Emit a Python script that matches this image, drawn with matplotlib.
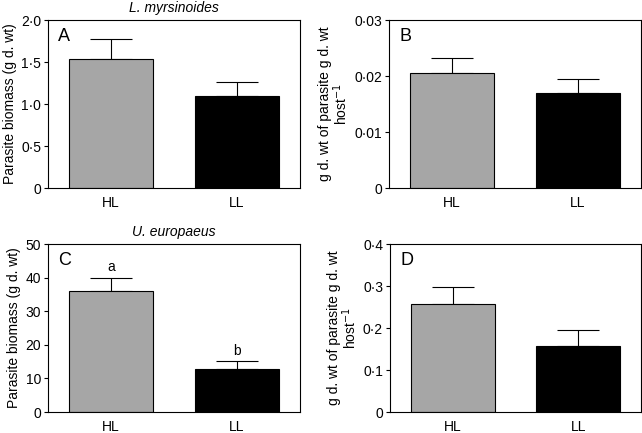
#!/usr/bin/env python3
import matplotlib
matplotlib.use("Agg")
import matplotlib.pyplot as plt
import numpy as np

plt.rcParams["font.family"] = ["Liberation Sans", "DejaVu Sans"]
plt.rcParams["font.size"] = 10

groups = ["HL", "LL"]
colours = ["#a6a6a6", "#000000"]

biomass_lm = [1.53, 1.10]
biomass_lm_err = [0.24, 0.16]
perhost_lm = [0.0205, 0.0170]
perhost_lm_err = [0.0027, 0.0024]

biomass_ue = [36.0, 12.7]
biomass_ue_err = [4.0, 2.5]
perhost_ue = [0.256, 0.156]
perhost_ue_err = [0.041, 0.039]

letters_ue = ["a", "b"]


def dot_fmt(v, nd):
    if v == 0:
        return "0"
    return f"{v:.{nd}f}".replace(".", "\u00b7")


def bar_panel(ax, vals, errs, ylim, yticks, nd, label, ylabel):
    x = np.arange(len(groups))
    ax.bar(x, vals, width=0.67, color=colours, edgecolor="black", linewidth=0.8, zorder=2)
    ax.errorbar(x, vals, yerr=[np.zeros(len(errs)), errs], fmt="none",
                ecolor="black", elinewidth=0.8, capsize=15, capthick=0.8, zorder=1)
    ax.set_xlim(-0.5, 1.5)
    ax.set_ylim(*ylim)
    ax.set_xticks(x)
    ax.set_xticklabels(groups)
    ax.set_yticks(yticks)
    ax.set_yticklabels([dot_fmt(t, nd) for t in yticks])
    ax.tick_params(axis="x", direction="in", length=4, width=0.8, pad=6, zorder=3)
    ax.tick_params(axis="y", direction="out", length=3, width=0.8, pad=2)
    for s in ax.spines.values():
        s.set_linewidth(0.8)
    ax.text(0.04, 0.95, label, transform=ax.transAxes, ha="left", va="top", fontsize=13)
    ax.set_ylabel(ylabel, fontsize=10, linespacing=0.95, labelpad=3)


fig = plt.figure(figsize=(6.42, 4.33), dpi=100)
W, H = 642, 433

def add(l, t, r, b):
    return fig.add_axes([l / W, 1 - b / H, (r - l) / W, (b - t) / H])

axA = add(48, 20, 300, 188)
axB = add(389, 20, 641, 188)
axC = add(48, 244, 300, 412)
axD = add(390, 244, 641, 412)

ylab1 = "Parasite biomass (g d. wt)"
ylab2 = "g d. wt of parasite g d. wt\nhost$^{-1}$"

bar_panel(axA, biomass_lm, biomass_lm_err, (0, 2.0), [0, 0.5, 1.0, 1.5, 2.0], 1, "A", ylab1)
bar_panel(axB, perhost_lm, perhost_lm_err, (0, 0.03), [0, 0.01, 0.02, 0.03], 2, "B", ylab2)
bar_panel(axC, biomass_ue, biomass_ue_err, (0, 50), [0, 10, 20, 30, 40, 50], 0, "C", ylab1)
bar_panel(axD, perhost_ue, perhost_ue_err, (0, 0.4), [0, 0.1, 0.2, 0.3, 0.4], 1, "D", ylab2)

axC.set_yticklabels([str(t) for t in [0, 10, 20, 30, 40, 50]])

axA.set_title("L. myrsinoides", style="italic", fontsize=10, pad=6)
axC.set_title("U. europaeus", style="italic", fontsize=10, pad=6)

for i, (v, e, t) in enumerate(zip(biomass_ue, biomass_ue_err, letters_ue)):
    axC.text(i, v + e + 1.0, t, ha="center", va="bottom", fontsize=10)

fig.savefig("out.png", dpi=100)
